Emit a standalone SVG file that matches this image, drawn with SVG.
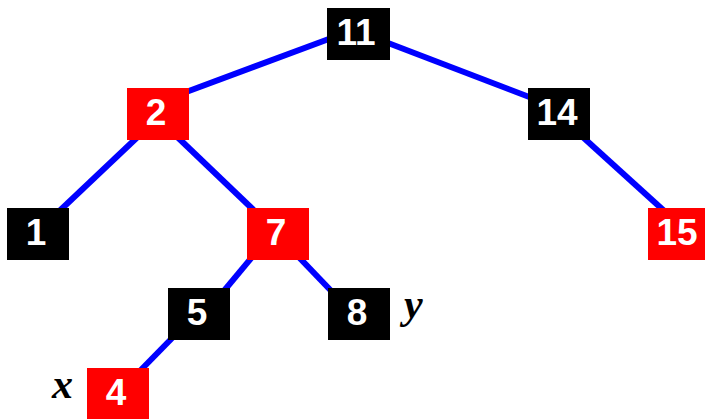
<svg xmlns="http://www.w3.org/2000/svg" width="705" height="419" viewBox="0 0 705 419">
<style>
.e{stroke:#0000ff;stroke-width:6;fill:none}
.b rect{fill:#000}
.r rect{fill:#ff0000}
.n text{font-family:"Liberation Sans",Arial,sans-serif;font-weight:bold;font-size:37px;fill:#fff;text-anchor:middle}
.lab{font-family:"Liberation Serif","Times New Roman",serif;font-weight:bold;font-style:italic;font-size:42px;fill:#000}
</style>
<rect width="705" height="419" fill="#fff"/>
<g id="connectors">
<line class="e" x1="170" y1="98" x2="345" y2="33"/>
<line class="e" x1="375" y1="38" x2="545" y2="103"/>
<line class="e" x1="145" y1="130" x2="52" y2="218"/>
<line class="e" x1="170" y1="130" x2="262" y2="218"/>
<line class="e" x1="575" y1="130" x2="672" y2="218"/>
<line class="e" x1="258" y1="250" x2="218" y2="298"/>
<line class="e" x1="292" y1="250" x2="338" y2="298"/>
<line class="e" x1="180" y1="330" x2="133" y2="378"/>
</g>
<g id="n11" class="n b"><rect x="327" y="8" width="63" height="52"/><text x="356" y="45">11</text></g>
<g id="n2" class="n r"><rect x="127" y="88" width="62" height="52"/><text x="156" y="125">2</text></g>
<g id="n14" class="n b"><rect x="528" y="88" width="62" height="52"/><text x="557" y="125">14</text></g>
<g id="n1" class="n b"><rect x="7" y="208" width="62" height="52"/><text x="36" y="245">1</text></g>
<g id="n7" class="n r"><rect x="247" y="208" width="62" height="52"/><text x="276" y="245">7</text></g>
<g id="n15" class="n r"><rect x="648" y="208" width="62" height="52"/><text x="677" y="245">15</text></g>
<g id="n5" class="n b"><rect x="168" y="288" width="62" height="52"/><text x="197" y="325">5</text></g>
<g id="n8" class="n b"><rect x="328" y="288" width="62" height="52"/><text x="357" y="325">8</text></g>
<g id="n4" class="n r"><rect x="87" y="368" width="62" height="52"/><text x="116" y="405">4</text></g>
<text class="lab" x="52" y="398">x</text>
<text class="lab" x="404" y="318">y</text>
</svg>
